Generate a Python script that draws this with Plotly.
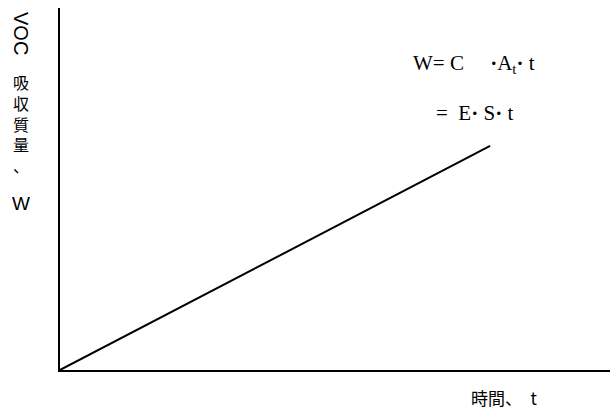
import plotly.graph_objects as go

# 時間 t と VOC 吸収質量 W（模式図）
t_vals = [0, 7.82]
w_vals = [0, 6.19]
x_range = [0, 10]
y_range = [0, 10]

formula_1 = "W= C     <b>·</b>A<sub>t</sub><b>·</b> t"
formula_2 = "=  E<b>·</b> S<b>·</b> t"
y_label_latin = "VOC"
y_label_jp = "吸<br>収<br>質<br>量<br>、"
y_label_sym = "W"
x_label = "時間、　t"

W, H = 610, 414
L, R, T, B = 60, 0, 8, 44
pw, ph = W - L - R, H - T - B


def px(x):
    return (x - L) / pw


def py(y):
    return (H - B - y) / ph


fig = go.Figure()
fig.add_trace(go.Scatter(x=t_vals, y=w_vals, mode="lines",
                         line=dict(color="black", width=2), hoverinfo="skip"))

sans = "Liberation Sans, Arial, sans-serif"
jp = "Noto Sans CJK JP, sans-serif"
serif = "Liberation Serif, Times New Roman, serif"

ann = [
    dict(x=px(21), y=py(33), text=y_label_latin, textangle=90,
         font=dict(family=sans, size=20, color="black")),
    dict(x=px(21), y=py(124), text=y_label_jp,
         font=dict(family=jp, size=16, color="black")),
    dict(x=px(21), y=py(203), text=y_label_sym,
         font=dict(family=sans, size=19, color="black")),
    dict(x=px(469), y=py(397), text=x_label, xanchor="left",
         font=dict(family=jp, size=17, color="black")),
    dict(x=px(411), y=py(64), text=formula_1, xanchor="left",
         font=dict(family=serif, size=21, color="black")),
    dict(x=px(434), y=py(113), text=formula_2, xanchor="left",
         font=dict(family=serif, size=21, color="black")),
]
for a in ann:
    a.update(xref="paper", yref="paper", showarrow=False, yanchor="middle")
    a.setdefault("xanchor", "center")

fig.update_layout(
    width=W, height=H,
    margin=dict(l=L, r=R, t=T, b=B),
    paper_bgcolor="white", plot_bgcolor="white",
    showlegend=False,
    annotations=ann,
)
axis = dict(showline=True, linecolor="black", linewidth=2, showgrid=False,
            zeroline=False, showticklabels=False, ticks="", fixedrange=True)
fig.update_xaxes(range=x_range, **axis)
fig.update_yaxes(range=y_range, **axis)

fig.write_html("out.html", config={"displayModeBar": False},
               post_script="document.body.style.margin='0';")
